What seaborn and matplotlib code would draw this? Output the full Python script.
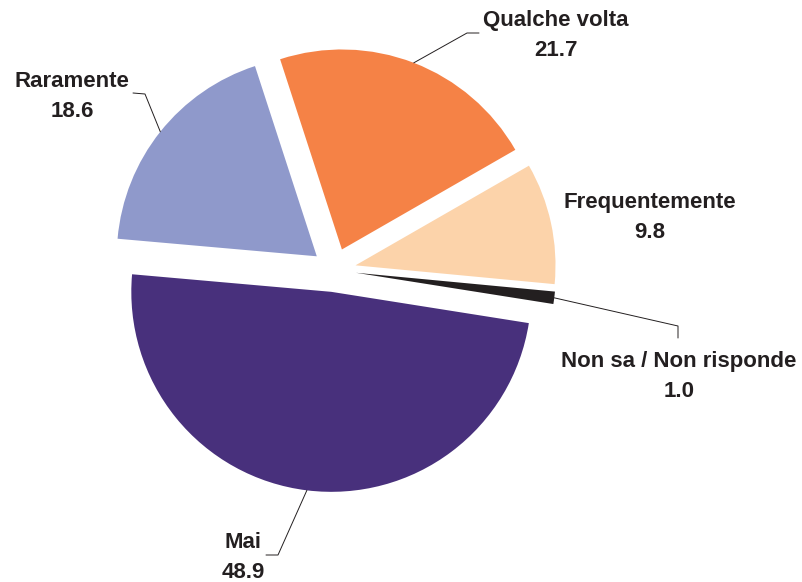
import numpy as np
import seaborn as sns
import matplotlib
matplotlib.use("Agg")
import matplotlib.pyplot as plt

# data (percentages), drawn counter-clockwise from the right
labels = ["Non sa / Non risponde", "Frequentemente", "Qualche volta", "Raramente", "Mai"]
values = [1.0, 9.8, 21.7, 18.6, 48.9]
colors = ["#231f20", "#fcd3aa", "#f58246", "#8f99cb", "#48307c"]

# label placement (data units, pie radius = 1)
label_pos = [(1.725, -0.485), (1.58, 0.31), (1.11, 1.22), (-1.31, 0.915), (-0.455, -1.39)]
# leader lines: elbow and end points, None for no line
leader_pts = [
    [(1.72, -0.28), (1.72, -0.34)],
    None,
    [(0.665, 1.185), (0.725, 1.185)],
    [(-0.945, 0.88), (-1.005, 0.885)],
    [(-0.28, -1.425), (-0.34, -1.425)],
]

sns.set_theme(style="white")
plt.rcParams['font.family'] = ['Liberation Sans', 'DejaVu Sans']
txt_col = "#231f20"

fig = plt.figure(figsize=(8.02, 5.82), dpi=100)
ax = fig.add_axes([0, 0, 1, 1])

explode = 0.11
start = -9.0
wedges, _ = ax.pie(values, colors=colors, startangle=start, counterclock=True,
                   explode=[explode] * len(values), radius=1.0,
                   wedgeprops=dict(linewidth=0))

for w, lab, val, pos, pts in zip(wedges, labels, values, label_pos, leader_pts):
    mid = np.deg2rad((w.theta1 + w.theta2) / 2)
    cx, cy = w.center
    ax.text(pos[0], pos[1], lab, ha="center", va="baseline", fontsize=16,
            fontweight="bold", color=txt_col)
    ax.text(pos[0], pos[1] - 0.152, "%.1f" % val, ha="center", va="baseline",
            fontsize=16, fontweight="bold", color=txt_col)
    if pts is not None:
        ax_x = cx + np.cos(mid)
        ax_y = cy + np.sin(mid)
        xs = [ax_x] + [p[0] for p in pts]
        ys = [ax_y] + [p[1] for p in pts]
        ax.plot(xs, ys, color=txt_col, lw=0.7)

ax.set_xlim(-334 / 200, (802 - 334) / 200)
ax.set_ylim(-(582 - 270) / 200, 270 / 200)
ax.set_aspect("equal")
ax.axis("off")

fig.savefig("out.png", dpi=100, facecolor="white")
